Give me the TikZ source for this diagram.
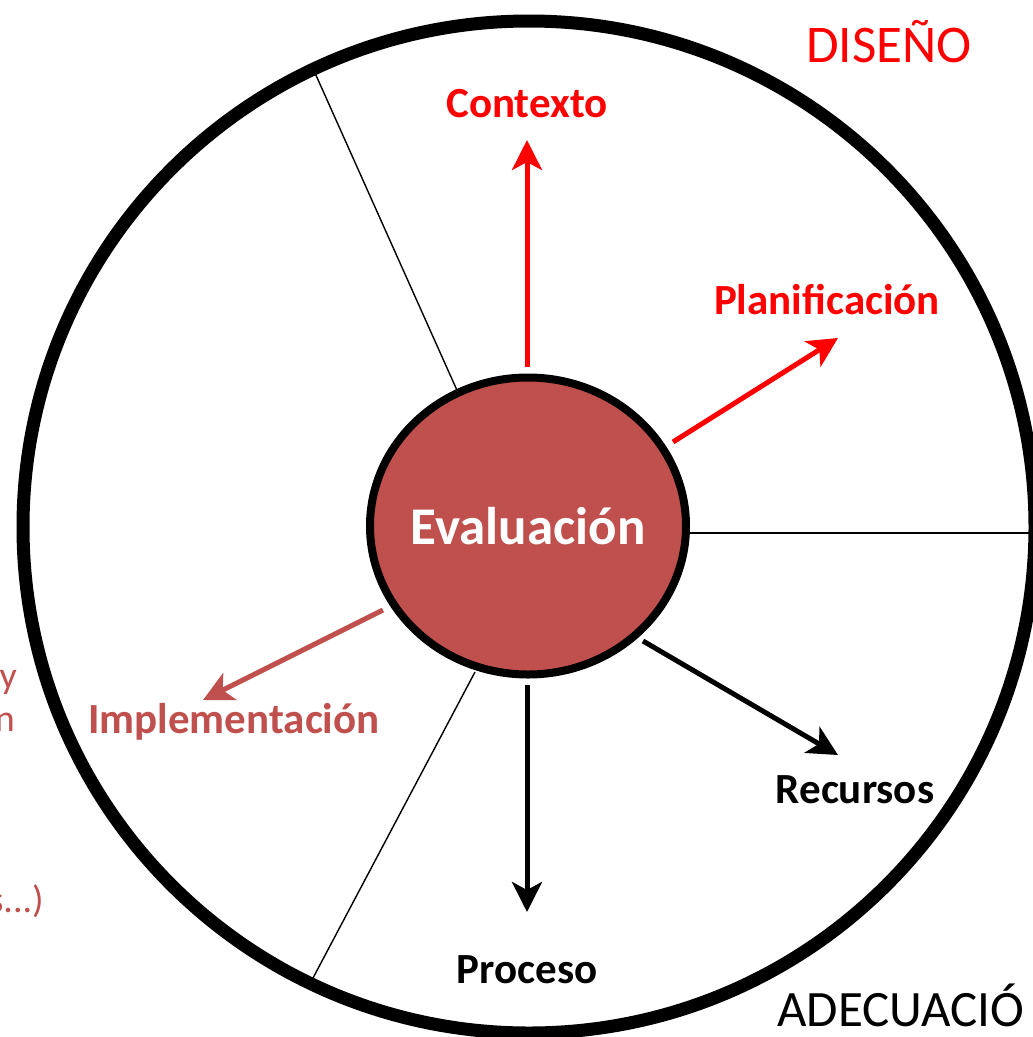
\documentclass[tikz,border=0pt]{standalone}
\usepackage{fontspec}
\setmainfont{Carlito}
\usetikzlibrary{arrows.meta,shapes.geometric}
\definecolor{evalred}{HTML}{C0504D}
\definecolor{pure}{HTML}{FF0000}
\tikzset{
  lbl/.style={font=\fontsize{43}{47}\selectfont\bfseries, inner sep=0pt},
  big/.style={font=\fontsize{53}{58}\selectfont, inner sep=0pt},
  frag/.style={font=\fontsize{38}{42}\selectfont, text=evalred, inner sep=0pt},
  arr/.style={line width=5pt, -{Stealth[length=30pt,width=30pt,inset=8pt]}},
  divider/.style={line width=1.4pt}
}
\begin{document}
\begin{tikzpicture}[x=1pt,y=-1pt]
\useasboundingbox (0,0) rectangle (1033,1037);
\clip (0,0) rectangle (1033,1037);
% outer circle
\node[circle, draw, line width=13pt, minimum size=1012pt, inner sep=0pt] (outer) at (529,527) {};
% dividers
\coordinate (d1a) at (315,73);  \coordinate (d1b) at (460,397);
\coordinate (d2a) at (690,533); \coordinate (d2b) at (1030,533);
\coordinate (d3a) at (475,672); \coordinate (d3b) at (313,978);
\draw[divider] (d1a) -- (d1b);
\draw[divider] (d2a) -- (d2b);
\draw[divider] (d3a) -- (d3b);
% center
\node[ellipse, draw, line width=8pt, fill=evalred, minimum width=316pt, minimum height=297pt, inner sep=0pt] (eval) at (528,526) {};
\node[font=\fontsize{53}{58}\selectfont\bfseries, text=white, inner sep=0pt] (evaltxt) at (eval.center) {Evaluación};
% arrow ends
\coordinate (tc) at (527,140);
\coordinate (tp) at (838,338);
\coordinate (ti) at (203,700);
\coordinate (tr) at (838,755);
\coordinate (tpr) at (527,912);
\coordinate (sc) at (527,367);
\coordinate (sp) at (673,442);
\coordinate (si) at (383,610);
\coordinate (sr) at (643,641);
\coordinate (spr) at (527,685);
\draw[arr, pure] (sc) -- (tc);
\draw[arr, pure] (sp) -- (tp);
\draw[arr, evalred] (si) -- (ti);
\draw[arr, black] (sr) -- (tr);
\draw[arr, black] (spr) -- (tpr);
% labels
\node[lbl, text=pure] (contexto) at (527,104) {Contexto};
\node[lbl, text=pure] (plan) at (827,300) {Planificación};
\node[lbl, text=evalred] (impl) at (234,722) {Implementación};
\node[lbl] (rec) at (855,790) {Recursos};
\node[lbl] (proc) at (527,970) {Proceso};
\node[big, text=pure] (diseno) at (889,42) {DISEÑO};
\node[big, anchor=west, font=\fontsize{51}{56}\selectfont] (adec) at (777,1005) {ADECUACIÓ};
% fragments of clipped text at left
\node[frag, anchor=base east] (fy) at (17,688) {y};
\node[frag, anchor=base east] (fn) at (15,731) {n};
\node[frag, anchor=base east] (fs) at (44,912) {s...)};
\end{tikzpicture}
\end{document}
